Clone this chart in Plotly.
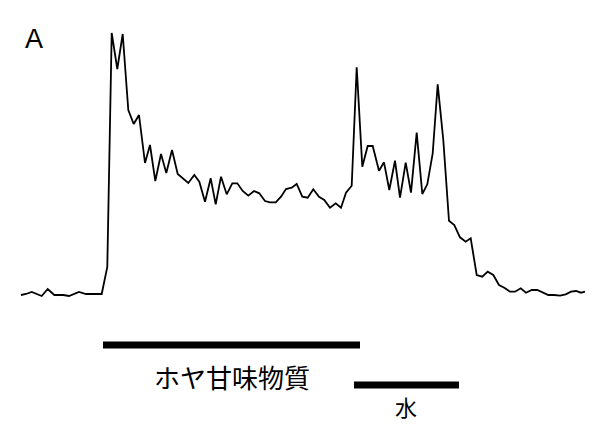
import plotly.graph_objects as go

# Time (arbitrary units) and response (arbitrary units)
time = [21, 26, 31.7, 36.5, 41.7, 47.7, 54.3, 59, 63.3, 69, 74, 79, 86, 92, 97, 101.7,
        107.3, 111.7, 117.3, 122.7, 128.3, 133.7, 139, 145, 150, 155.3, 161, 166.3, 172, 177.7,
        188.3, 194.3, 199.3, 205, 210.7, 215.7, 221, 226.7, 232.3, 237.3, 242.7, 248.3, 254,
        259.3, 265, 270, 275.7, 281, 286, 291.7, 296.7, 302.3, 307.7, 313.3, 319, 324.3, 330,
        335.7, 341, 346, 351.7, 356.7, 362.3, 367.7, 372.7, 379, 384, 389.3, 395, 400, 405.7,
        411, 416.7, 422.3, 427.3, 432.7, 437.7, 443.3, 449, 454.3, 460, 465.7, 470.7, 476.7,
        482.3, 487.7, 493.3, 499, 504.3, 510, 515, 520.7, 526, 531.7, 537.3, 542.7, 548.3,
        554, 560, 565.7, 571, 576, 581, 585]
response = [1, 2, 4, 2, 0, 7, 1, 1, 1, 0, 2, 4, 2, 2, 2, 2,
            29, 263, 227, 262, 186, 172, 181, 133, 151, 115, 142, 123, 146, 122,
            113, 121, 114.3, 94.3, 117.7, 91.7, 119.3, 101.7, 112.7, 112.7, 105, 100.3, 105,
            102.7, 95, 93.7, 93.7, 99.3, 107, 108.3, 112, 99.3, 98.3, 106.7, 99.3, 96, 88.3,
            92.7, 88.3, 103.3, 110.3, 228.7, 129.3, 150, 150, 125.3, 133.7, 106, 135.3, 98.3, 133.3,
            103.3, 163.3, 102, 111.7, 142.7, 211.7, 156, 75.3, 71, 58.7, 54.3, 57.7, 21,
            19.3, 24.3, 21, 11, 8.3, 4.3, 4.3, 7.7, 3.3, 6, 6, 3.3, 1,
            1, 0.3, 1.7, 4.3, 5, 3.3, 4.3]

# Stimulus periods
stim_labels = ["ホヤ甘味物質", "水"]
stim_start = [103, 354]
stim_end = [360, 459]
stim_level = [-49, -89]
label_x = [232, 406]
label_y = [-80, -110]
label_size = [26, 22]

W, H, OFF = 586, 416, 8

fig = go.Figure()
fig.add_trace(go.Scatter(x=time, y=response, mode="lines",
                         line=dict(color="black", width=1.8), hoverinfo="skip"))
for s, e, lv in zip(stim_start, stim_end, stim_level):
    fig.add_trace(go.Scatter(x=[s, e], y=[lv, lv], mode="lines",
                             line=dict(color="black", width=7), hoverinfo="skip"))
for t, lx, ly, fs in zip(stim_labels, label_x, label_y, label_size):
    fig.add_annotation(x=lx, y=ly, text=t, showarrow=False, borderpad=0,
                       font=dict(family="Noto Sans CJK JP", size=fs, color="black"))

fig.add_annotation(x=(23 - OFF) / W, y=1 - (22 - OFF) / H, xref="paper", yref="paper", text="A",
                   showarrow=False, font=dict(family="Liberation Sans", size=27, color="black"))

fig.update_layout(width=W, height=H, margin=dict(l=0, r=0, t=0, b=0),
                  paper_bgcolor="white", plot_bgcolor="white", showlegend=False,
                  xaxis=dict(range=[OFF, OFF + W], visible=False, fixedrange=True),
                  yaxis=dict(range=[296 - 424, 296 - OFF], visible=False, fixedrange=True))
fig.write_html("out.html")
